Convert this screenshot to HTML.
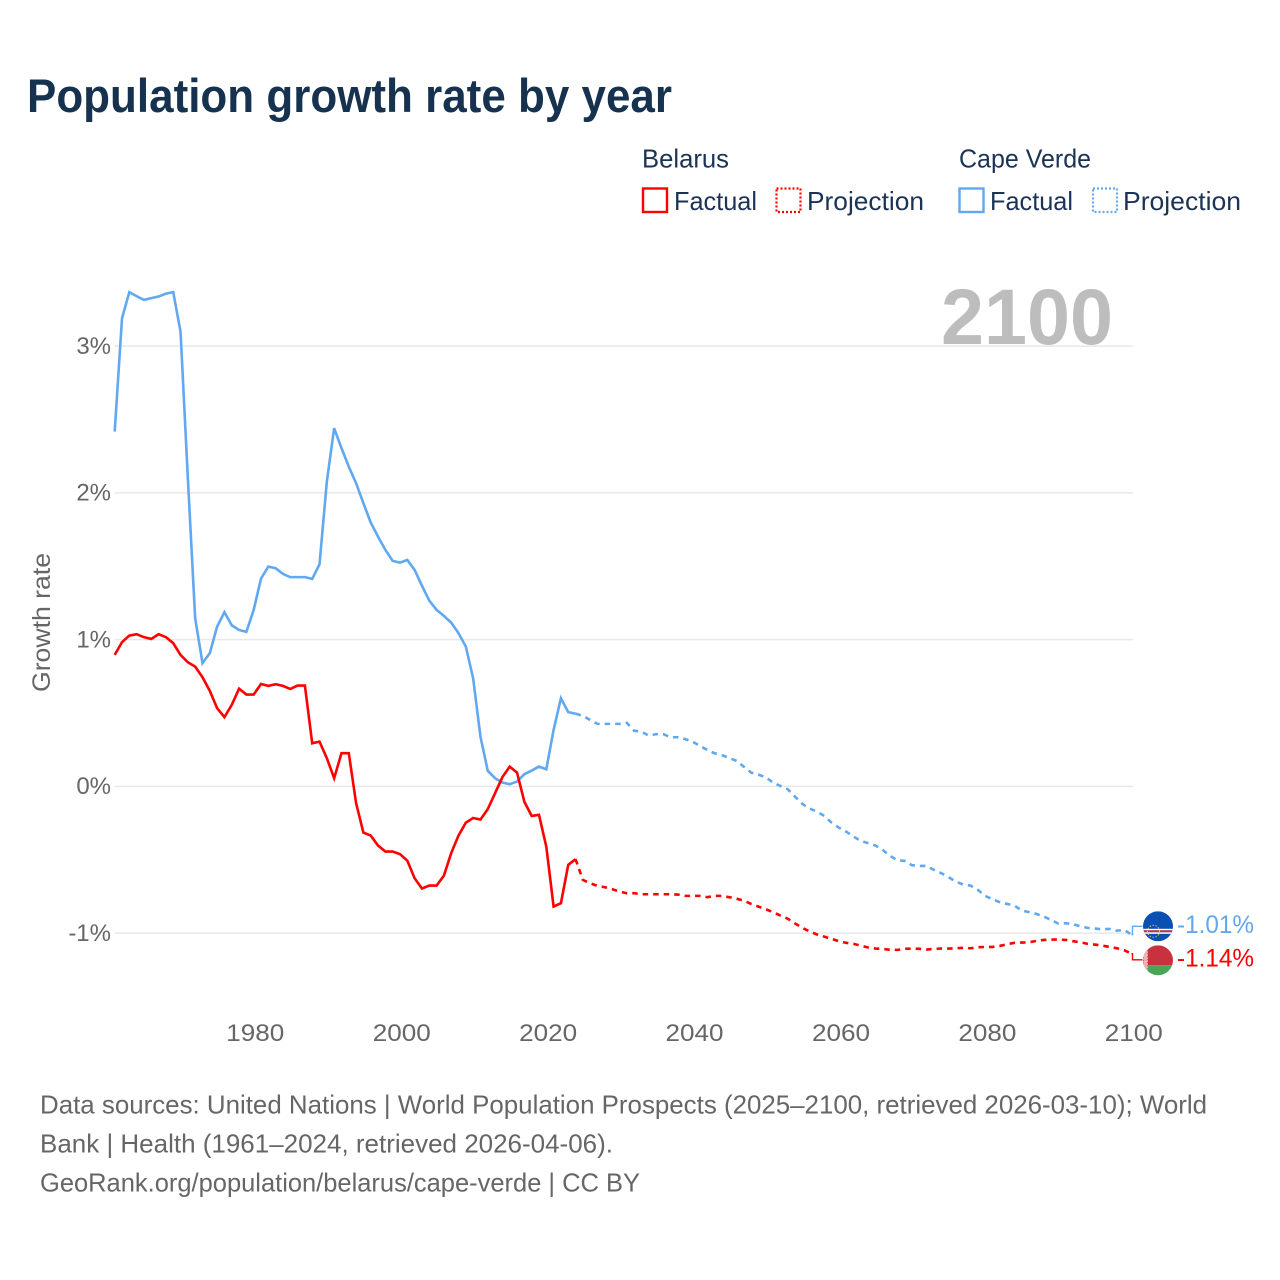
<!DOCTYPE html>
<html lang="en">
<head>
<meta charset="utf-8">
<title>Population growth rate by year</title>
<style>
html,body{margin:0;padding:0;background:#fff;width:1280px;height:1280px;overflow:hidden}
svg{display:block}
text{font-family:"Liberation Sans",sans-serif}
</style>
</head>
<body>
<svg id="chart" xmlns="http://www.w3.org/2000/svg" width="1280" height="1280" viewBox="0 0 1280 1280">
  <defs>
    <clipPath id="cv-clip"><circle id="cv-clip-circle" cx="1158" cy="926" r="15"/></clipPath>
    <clipPath id="by-clip"><circle id="by-clip-circle" cx="1158" cy="960" r="15"/></clipPath>
  </defs>
  <text x="27" y="112" font-size="47" font-weight="700" fill="#17324f" textLength="645" lengthAdjust="spacingAndGlyphs">Population growth rate by year</text>

  <g font-size="26" fill="#1b3355">
    <text x="642" y="167.5" textLength="87" lengthAdjust="spacingAndGlyphs">Belarus</text>
    <text x="959" y="167.5" textLength="132" lengthAdjust="spacingAndGlyphs">Cape Verde</text>
    <rect x="643" y="188.5" width="24" height="23.5" fill="none" stroke="#ff0000" stroke-width="2.4"/>
    <text x="674" y="210" textLength="83" lengthAdjust="spacingAndGlyphs">Factual</text>
    <rect x="776.5" y="188.5" width="24" height="23.5" fill="none" stroke="#ff0000" stroke-width="2.2" stroke-dasharray="2 2"/>
    <text x="807" y="210" textLength="117" lengthAdjust="spacingAndGlyphs">Projection</text>
    <rect x="959.5" y="188.5" width="24" height="23.5" fill="none" stroke="#60a8f0" stroke-width="2.4"/>
    <text x="990" y="210" textLength="83" lengthAdjust="spacingAndGlyphs">Factual</text>
    <rect x="1093" y="188.5" width="24" height="23.5" fill="none" stroke="#60a8f0" stroke-width="2.2" stroke-dasharray="2 2"/>
    <text x="1123" y="210" textLength="118" lengthAdjust="spacingAndGlyphs">Projection</text>
  </g>

  <g id="grid"></g>
  <g id="y-ticks"></g>
  <g id="x-ticks"></g>
  <text transform="translate(50,622.5) rotate(-90)" text-anchor="middle" font-size="25" fill="#666666" textLength="139" lengthAdjust="spacingAndGlyphs">Growth rate</text>
  <text x="941" y="344" font-size="79" font-weight="700" fill="#bdbdbd" textLength="172" lengthAdjust="spacingAndGlyphs">2100</text>

  <g id="series"></g>

  <g id="flag-cv" clip-path="url(#cv-clip)">
    <rect x="1143" y="911" width="30" height="30" fill="#0a50b0"/>
    <rect x="1143" y="928.5" width="30" height="1.5" fill="#fff"/>
    <rect x="1143" y="930" width="30" height="2" fill="#c9303e"/>
    <rect x="1143" y="932" width="30" height="1.5" fill="#fff"/>
    <circle cx="1153.5" cy="931" r="6" fill="none" stroke="#d8c060" stroke-width="1" stroke-dasharray="1.5 1.5"/>
  </g>
  <g id="flag-by" clip-path="url(#by-clip)">
    <rect x="1143" y="945" width="30" height="20" fill="#c8313e"/>
    <rect x="1143" y="965" width="30" height="11" fill="#4aa657"/>
    <rect x="1143" y="945" width="5" height="31" fill="#eeb0b4"/>
    <rect x="1143.5" y="945" width="4" height="31" fill="none" stroke="#d24a55" stroke-width="1" stroke-dasharray="1 2"/>
  </g>

  <g id="end-labels"></g>

  <g font-size="26" fill="#666666">
    <text x="40" y="1113.5" textLength="1167" lengthAdjust="spacingAndGlyphs">Data sources: United Nations | World Population Prospects (2025–2100, retrieved 2026-03-10); World</text>
    <text x="40" y="1152.5" textLength="573" lengthAdjust="spacingAndGlyphs">Bank | Health (1961–2024, retrieved 2026-04-06).</text>
    <text x="40" y="1191.5" textLength="600" lengthAdjust="spacingAndGlyphs">GeoRank.org/population/belarus/cape-verde | CC BY</text>
  </g>
</svg>
<script>
const factualStartYear = 1961;
const projectionStartYear = 2024;
const yTickValues = [3, 2, 1, 0, -1];
const xTickYears = [1980, 2000, 2020, 2040, 2060, 2080, 2100];

const capeVerdeFactual = [2.418,3.190,3.368,3.340,3.315,3.327,3.338,3.358,3.368,3.099,
2.10,1.146,0.84,0.908,1.089,1.187,1.098,1.066,1.053,1.203,
1.416,1.498,1.487,1.448,1.426,1.426,1.426,1.414,1.514,2.077,
2.441,2.305,2.179,2.066,1.930,1.798,1.702,1.612,1.537,1.525,
1.543,1.475,1.368,1.266,1.203,1.162,1.116,1.044,0.953,0.737,
0.339,0.106,0.056,0.026,0.015,0.033,0.083,0.108,0.135,0.117,
0.385,0.601,0.506,0.496];

const capeVerdeProjection = [0.496,0.480,0.453,0.426,0.426,0.426,0.426,
0.433,0.380,0.373,0.346,0.356,0.356,0.335,0.335,0.322,0.305,
0.276,0.249,0.226,0.213,0.194,0.174,0.135,0.094,0.080,0.063,
0.026,0.003,-0.019,-0.070,-0.119,-0.151,-0.172,-0.201,-0.247,-0.281,
-0.308,-0.342,-0.371,-0.387,-0.403,-0.433,-0.474,-0.503,-0.508,-0.537,
-0.542,-0.542,-0.569,-0.591,-0.619,-0.649,-0.669,-0.676,-0.705,-0.746,
-0.769,-0.789,-0.801,-0.812,-0.846,-0.857,-0.869,-0.887,-0.910,-0.935,
-0.932,-0.939,-0.953,-0.964,-0.969,-0.973,-0.971,-0.983,-0.978,-1.01];

const belarusFactual = [0.896,0.983,1.028,1.037,1.017,1.005,1.037,1.017,0.976,0.896,
0.846,0.816,0.744,0.651,0.533,0.472,0.555,0.666,0.626,0.626,
0.698,0.685,0.696,0.685,0.664,0.687,0.687,0.294,0.305,0.192,
0.056,0.226,0.226,-0.114,-0.315,-0.335,-0.403,-0.444,-0.444,-0.462,
-0.506,-0.626,-0.696,-0.676,-0.676,-0.608,-0.455,-0.335,-0.247,-0.215,
-0.226,-0.155,-0.046,0.063,0.135,0.094,-0.104,-0.201,-0.194,-0.410,
-0.819,-0.796,-0.535,-0.496];

const belarusProjection = [-0.496,-0.637,-0.660,-0.678,-0.687,-0.700,-0.717,
-0.728,-0.728,-0.735,-0.735,-0.735,-0.735,-0.735,-0.737,-0.746,-0.746,
-0.746,-0.755,-0.746,-0.746,-0.755,-0.765,-0.778,-0.801,-0.819,-0.837,
-0.857,-0.880,-0.901,-0.934,-0.964,-0.988,-1.009,-1.024,-1.039,-1.055,
-1.066,-1.073,-1.085,-1.098,-1.105,-1.107,-1.114,-1.114,-1.107,-1.105,
-1.107,-1.112,-1.107,-1.105,-1.105,-1.103,-1.100,-1.103,-1.096,-1.094,
-1.094,-1.087,-1.075,-1.066,-1.064,-1.062,-1.053,-1.046,-1.044,-1.044,
-1.046,-1.055,-1.062,-1.073,-1.078,-1.085,-1.094,-1.103,-1.116,-1.14];

const SVG_NS = 'http://www.w3.org/2000/svg';
const BLUE = '#60a8f0';
const RED = '#ff0000';
const GREY = '#666666';

function xScale(year) { return 114.7 + (year - 1961) * 7.315; }
function yScale(value) { return 786.4 - value * 146.75; }

function pointsFor(values, startYear) {
  return values.map(function (v, i) {
    return xScale(startYear + i).toFixed(2) + ',' + yScale(v).toFixed(2);
  }).join(' ');
}

const gridGroup = document.getElementById('grid');
const yTickGroup = document.getElementById('y-ticks');
yTickValues.forEach(function (v) {
  const line = document.createElementNS(SVG_NS, 'line');
  
  
  line.setAttribute('x1', 114.7);
  line.setAttribute('x2', 1133);
  line.setAttribute('y1', yScale(v));
  line.setAttribute('y2', yScale(v));
  line.setAttribute('stroke', '#e8e8e8');
  line.setAttribute('stroke-width', 1.5);
  gridGroup.appendChild(line);
  const label = document.createElementNS(SVG_NS, 'text');
  
  
  label.setAttribute('x', 111);
  label.setAttribute('y', yScale(v) + 7.8);
  label.setAttribute('text-anchor', 'end');
  label.setAttribute('font-size', 24);
  label.setAttribute('fill', GREY);
  label.textContent = v + '%';
  yTickGroup.appendChild(label);
});

const xTickGroup = document.getElementById('x-ticks');
xTickYears.forEach(function (year) {
  const label = document.createElementNS(SVG_NS, 'text');
  
  
  label.setAttribute('x', xScale(year) + 1.6 + (year - 1980) * 0.006);
  label.setAttribute('y', 1041);
  label.setAttribute('text-anchor', 'middle');
  label.setAttribute('font-size', 24);
  label.setAttribute('fill', GREY);
  label.setAttribute('textLength', 58);
  label.setAttribute('lengthAdjust', 'spacingAndGlyphs');
  label.textContent = year;
  xTickGroup.appendChild(label);
});

const seriesGroup = document.getElementById('series');
function drawLine(name, values, startYear, color, dashed) {
  const line = document.createElementNS(SVG_NS, 'polyline');
  
  
  line.setAttribute('points', pointsFor(values, startYear));
  line.setAttribute('fill', 'none');
  line.setAttribute('stroke', color);
  line.setAttribute('stroke-width', 2.6);
  line.setAttribute('stroke-linejoin', 'miter');
  if (dashed) { line.setAttribute('stroke-dasharray', '5.5 5'); }
  seriesGroup.appendChild(line);
}
drawLine('cape-verde-factual-line', capeVerdeFactual, factualStartYear, BLUE, false);
drawLine('cape-verde-projection-line', capeVerdeProjection, projectionStartYear, BLUE, true);
drawLine('belarus-factual-line', belarusFactual, factualStartYear, RED, false);
drawLine('belarus-projection-line', belarusProjection, projectionStartYear, RED, true);

const cvLast = capeVerdeProjection[capeVerdeProjection.length - 1];
const byLast = belarusProjection[belarusProjection.length - 1];
const endX = xScale(2100);
let cvLabelY = yScale(cvLast);
let byLabelY = yScale(byLast);
const labelGap = 33.5;
if (Math.abs(byLabelY - cvLabelY) < labelGap) {
  const mid = (cvLabelY + byLabelY) / 2 - 2.6;
  const sign = byLabelY >= cvLabelY ? 1 : -1;
  cvLabelY = mid - sign * labelGap / 2;
  byLabelY = mid + sign * labelGap / 2;
}
const labelsGroup = document.getElementById('end-labels');
function drawEnd(kind, value, labelY, color) {
  const link = document.createElementNS(SVG_NS, 'polyline');
  
  
  link.setAttribute('points', endX + ',' + yScale(value) + ' ' + (endX + 1) + ',' + yScale(value) + ' ' + (endX + 1) + ',' + (labelY + 1.5) + ' ' + (endX + 11) + ',' + (labelY + 1.5));
  link.setAttribute('fill', 'none');
  link.setAttribute('stroke', color);
  link.setAttribute('stroke-width', 1.4);
  labelsGroup.appendChild(link);
  const label = document.createElementNS(SVG_NS, 'text');
  
  
  label.setAttribute('x', 1177);
  label.setAttribute('y', labelY + 8.3);
  label.setAttribute('font-size', 25);
  label.setAttribute('fill', color);
  label.setAttribute('textLength', 77);
  label.setAttribute('lengthAdjust', 'spacingAndGlyphs');
  label.textContent = value.toFixed(2) + '%';
  labelsGroup.appendChild(label);
}
drawEnd('cape-verde', cvLast, cvLabelY, BLUE);
drawEnd('belarus', byLast, byLabelY, RED);

document.getElementById('flag-cv').setAttribute('transform', 'translate(0,' + (cvLabelY + 1.5 - 926) + ')');
document.getElementById('flag-by').setAttribute('transform', 'translate(0,' + (byLabelY + 2 - 960) + ')');
</script>
</body>
</html>
